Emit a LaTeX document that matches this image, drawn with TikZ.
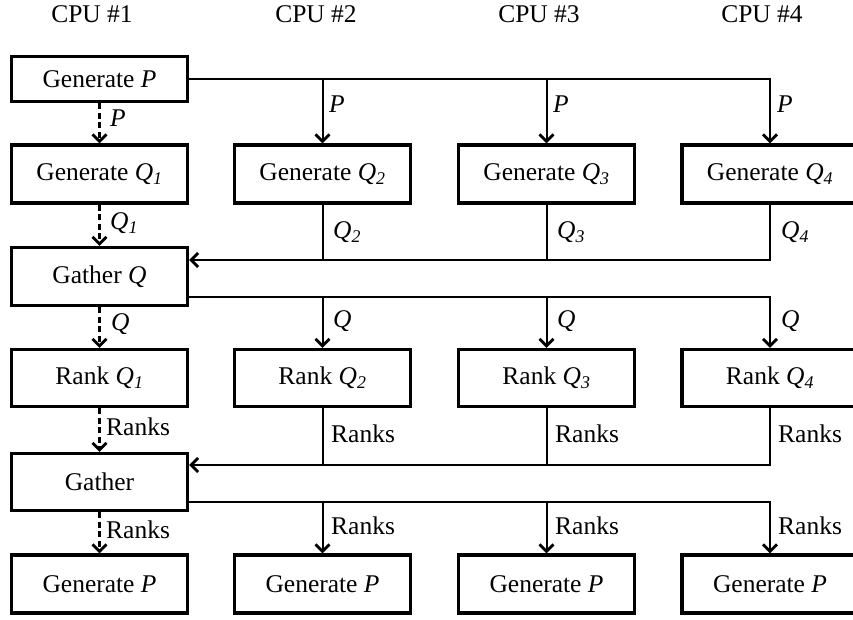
\documentclass[tikz,border=0pt]{standalone}
\usepackage{fontspec}
\setmainfont{Liberation Serif}
\usetikzlibrary{arrows.meta,calc}
\newcommand{\Qs}[1]{\textit{Q}\textsubscript{\textit{#1}}}
\begin{document}
\begin{tikzpicture}[x=1pt,y=-1pt,
  every node/.style={font=\fontsize{25.5}{30}\selectfont},
  box/.style={draw, line width=3.2pt, minimum width=176pt, minimum height=58pt, inner sep=0pt},
  topbox/.style={box, minimum height=45pt},
  conn/.style={line width=2pt},
  arr/.style={conn, -{Straight Barb[length=7pt,width=14pt,line width=2.8pt]}},
  darr/.style={arr, line width=2.5pt, dash pattern=on 6pt off 3.5pt},
  lbl/.style={anchor=west, inner sep=0pt},
  cpu/.style={inner sep=0pt}
]
\useasboundingbox (0,0) rectangle (853,619);
\fill[white] (0,0) rectangle (853,619);

% CPU headers
\node[cpu] (h1) at (92,14) {CPU \#1};
\node[cpu] (h2) at (316,14) {CPU \#2};
\node[cpu] (h3) at (539,14) {CPU \#3};
\node[cpu] (h4) at (762,14) {CPU \#4};

% boxes
\node[topbox] (a1) at (99.5,79) {Generate \textit{P}};

\node[box] (b1) at (99.5,174) {Generate \Qs{1}};
\node[box] (b2) at (322.5,174) {Generate \Qs{2}};
\node[box] (b3) at (546.5,174) {Generate \Qs{3}};
\node[box] (b4) at (770,174) {Generate \Qs{4}};

\node[box] (c1) at (99.5,276.5) {Gather \textit{Q}};

\node[box, minimum height=57pt] (d1) at (99.5,378) {Rank \Qs{1}};
\node[box, minimum height=57pt] (d2) at (322.5,378) {Rank \Qs{2}};
\node[box, minimum height=57pt] (d3) at (546.5,378) {Rank \Qs{3}};
\node[box, minimum height=57pt] (d4) at (770,378) {Rank \Qs{4}};

\node[box, minimum height=57pt] (e1) at (99.5,482) {Gather};

\node[box] (f1) at (99.5,584) {Generate \textit{P}};
\node[box] (f2) at (322.5,584) {Generate \textit{P}};
\node[box] (f3) at (546.5,584) {Generate \textit{P}};
\node[box] (f4) at (770,584) {Generate \textit{P}};

% CPU #1 dashed chain
\draw[darr] (a1.south) -- (b1.north);
\draw[darr] (b1.south) -- (c1.north);
\draw[darr] (c1.south) -- (d1.north);
\draw[darr] (d1.south) -- (e1.north);
\draw[darr] (e1.south) -- (f1.north);
\node[lbl] (lp1) at (110,118) {\textit{P}};
\node[lbl] (lq1) at (110,223) {\Qs{1}};
\node[lbl] (lqq1) at (111,324) {\textit{Q}};
\node[lbl] (lr1) at (106,427) {Ranks};
\node[lbl] (lrr1) at (106,530) {Ranks};

% broadcast P
\draw[arr] (a1.east) -| (b4.north);
\draw[arr] (a1.east -| b2.north) -- (b2.north);
\draw[arr] (a1.east -| b3.north) -- (b3.north);
\node[lbl] (lp2) at (329,104) {\textit{P}};
\node[lbl] (lp3) at (553,104) {\textit{P}};
\node[lbl] (lp4) at (777,104) {\textit{P}};

% gather Q
\coordinate (cin) at ([yshift=16.5pt]c1.east);
\coordinate (cout) at ([yshift=-20.5pt]c1.east);
\draw[arr] (b4.south) |- (cin);
\draw[conn] (b2.south) -- (b2.south |- cin);
\draw[conn] (b3.south) -- (b3.south |- cin);
\node[lbl] (lq2) at (333,232) {\Qs{2}};
\node[lbl] (lq3) at (557,232) {\Qs{3}};
\node[lbl] (lq4) at (781,232) {\Qs{4}};

% broadcast Q
\draw[arr] (cout) -| (d4.north);
\draw[arr] (cout -| d2.north) -- (d2.north);
\draw[arr] (cout -| d3.north) -- (d3.north);
\node[lbl] (lqq2) at (333,321) {\textit{Q}};
\node[lbl] (lqq3) at (557,321) {\textit{Q}};
\node[lbl] (lqq4) at (781,321) {\textit{Q}};

% gather ranks
\coordinate (ein) at ([yshift=17pt]e1.east);
\coordinate (eout) at ([yshift=-20pt]e1.east);
\draw[arr] (d4.south) |- (ein);
\draw[conn] (d2.south) -- (d2.south |- ein);
\draw[conn] (d3.south) -- (d3.south |- ein);
\node[lbl] (lr2) at (331,434) {Ranks};
\node[lbl] (lr3) at (555,434) {Ranks};
\node[lbl] (lr4) at (778,434) {Ranks};

% broadcast ranks
\draw[arr] (eout) -| (f4.north);
\draw[arr] (eout -| f2.north) -- (f2.north);
\draw[arr] (eout -| f3.north) -- (f3.north);
\node[lbl] (lrr2) at (331,526) {Ranks};
\node[lbl] (lrr3) at (555,526) {Ranks};
\node[lbl] (lrr4) at (778,526) {Ranks};
\end{tikzpicture}
\end{document}
